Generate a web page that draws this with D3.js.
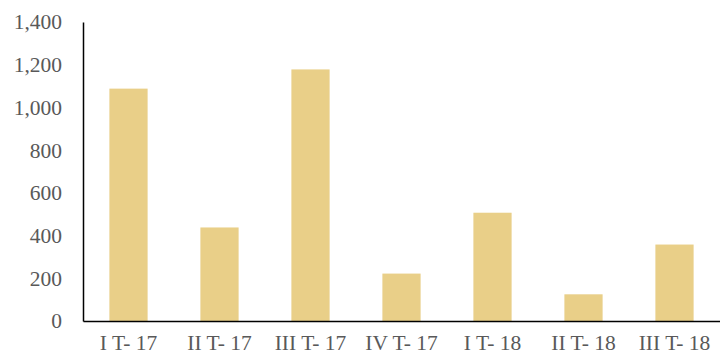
<!DOCTYPE html>
<html><head><meta charset="utf-8">
<script src="https://cdn.jsdelivr.net/npm/d3@7"></script>
<style>body{margin:0;background:#fff}svg{display:block}</style>
</head><body>
<script>
const categories = ["I T- 17","II T- 17","III T- 17","IV T- 17","I T- 18","II T- 18","III T- 18"];
const values = [1088, 438, 1178, 222, 507, 125, 358];
const yTicks = [0,200,400,600,800,1000,1200,1400];

const W=720,H=358;
const m={left:83,right:0,top:22,bottom:37};
const svg=d3.select("body").append("svg").attr("width",W).attr("height",H);
const x=d3.scaleBand().domain(categories).range([m.left,W-m.right]).paddingInner(0.58).paddingOuter(0.29);
const y=d3.scaleLinear().domain([0,1400]).range([H-m.bottom,m.top]);
const font="'Liberation Serif', 'DejaVu Serif', serif";

svg.selectAll("rect.bar").data(values).enter().append("rect")
  .attr("x",(d,i)=>x(categories[i])).attr("width",x.bandwidth())
  .attr("y",d=>y(d)).attr("height",d=>y(0)-y(d)).attr("fill","#E9CF88");

const ya=svg.append("g").attr("transform",`translate(${m.left},0)`)
  .call(d3.axisLeft(y).tickValues(yTicks).tickSize(0).tickPadding(21).tickFormat(d3.format(",")));
ya.select(".domain").attr("stroke","#000").attr("stroke-width",1.5);
ya.selectAll("text").attr("font-family",font).attr("font-size",21.5).attr("fill","#595959");

const xa=svg.append("g").attr("transform",`translate(0,${y(0)})`)
  .call(d3.axisBottom(x).tickSize(0).tickPadding(14));
xa.select(".domain").attr("stroke","#000").attr("stroke-width",1.5);
xa.selectAll("text").attr("font-family",font).attr("font-size",21.5).attr("fill","#595959");
</script>
</body></html>
